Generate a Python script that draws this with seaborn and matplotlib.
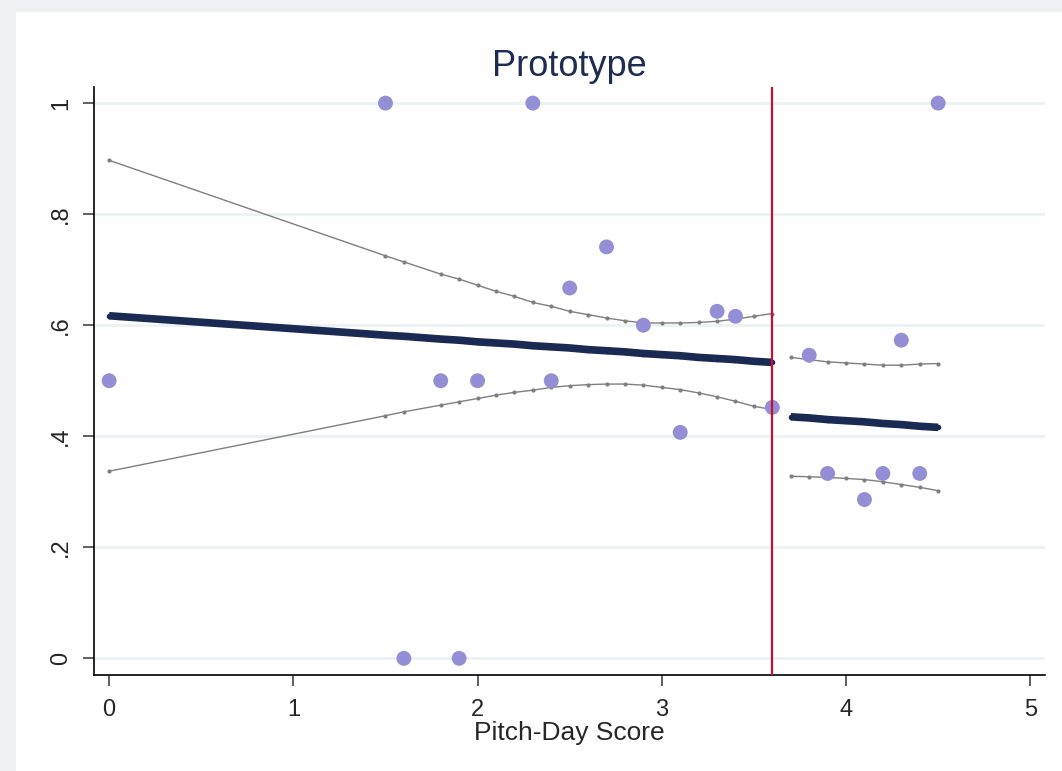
import matplotlib
matplotlib.use("Agg")
import matplotlib.pyplot as plt
import seaborn as sns
import pandas as pd
from matplotlib.patches import Rectangle

sns.set_style("white")
plt.rcParams['font.family'] = ['Liberation Sans', 'DejaVu Sans']

# ---- data ----
pts_x = [0, 1.5, 2.3, 4.5, 2.5, 2.7, 2.9, 3.3, 3.4, 1.8, 2.0, 2.4, 3.1, 3.6,
         3.8, 4.3, 3.9, 4.2, 4.4, 4.1, 1.6, 1.9]
pts_y = [0.5, 1, 1, 1, 0.667, 0.741, 0.6, 0.625, 0.616, 0.5, 0.5, 0.5, 0.407, 0.452,
         0.546, 0.573, 0.333, 0.333, 0.333, 0.286, 0, 0]

left_x = [0, 1.5, 1.6, 1.8, 1.9, 2.0, 2.1, 2.2, 2.3, 2.4, 2.5, 2.6, 2.7, 2.8, 2.9,
          3.0, 3.1, 3.2, 3.3, 3.4, 3.5, 3.6]
left_fit = [0.617, 0.582, 0.580, 0.575, 0.573, 0.570, 0.568, 0.566, 0.563, 0.561, 0.559,
            0.556, 0.554, 0.552, 0.549, 0.547, 0.545, 0.542, 0.540, 0.538, 0.535, 0.533]
left_hi = [0.897, 0.725, 0.714, 0.692, 0.683, 0.672, 0.661, 0.652, 0.641, 0.634, 0.625,
           0.619, 0.613, 0.608, 0.604, 0.604, 0.604, 0.605, 0.607, 0.611, 0.616, 0.621]
left_lo = [0.337, 0.437, 0.444, 0.456, 0.462, 0.468, 0.474, 0.479, 0.483, 0.488, 0.491,
           0.493, 0.494, 0.494, 0.492, 0.488, 0.484, 0.478, 0.471, 0.463, 0.454, 0.448]

right_x = [3.7, 3.8, 3.9, 4.0, 4.1, 4.2, 4.3, 4.4, 4.5]
right_fit = [0.435, 0.433, 0.430, 0.428, 0.426, 0.423, 0.421, 0.418, 0.416]
right_hi = [0.542, 0.538, 0.534, 0.532, 0.530, 0.528, 0.528, 0.530, 0.531]
right_lo = [0.328, 0.327, 0.326, 0.324, 0.322, 0.318, 0.313, 0.308, 0.302]

cutoff = 3.6
title = "Prototype"
xlabel = "Pitch-Day Score"
xticks = [0, 1, 2, 3, 4, 5]
yticks = [0, 0.2, 0.4, 0.6, 0.8, 1.0]
ytick_labels = ["0", ".2", ".4", ".6", ".8", "1"]

W, H = 1062, 771
fig = plt.figure(figsize=(W / 100, H / 100), dpi=100)
fig.patch.set_facecolor('#eff0f3')
fig.patches.append(Rectangle((16 / W, 0), 1 - 16 / W, 1 - 12 / H, transform=fig.transFigure,
                             facecolor='white', edgecolor='none', zorder=-10))

ax = fig.add_axes([94 / W, (H - 675) / H, (1045 - 94) / W, (675 - 87) / H])
ax.set_facecolor('white')

navy = '#1a2a52'
gray = '#7f7f7f'
purple = '#938ed6'

for xs, ys in [(left_x, left_hi), (left_x, left_lo), (right_x, right_hi), (right_x, right_lo)]:
    sns.lineplot(x=xs, y=ys, ax=ax, color=gray, linewidth=1.0, marker='o', markersize=3,
                 markeredgewidth=0, sort=False, estimator=None, zorder=3)
for xs, ys in [(left_x, left_fit), (right_x, right_fit)]:
    sns.lineplot(x=xs, y=ys, ax=ax, color=navy, linewidth=5.5, marker='o', markersize=4,
                 markeredgewidth=0, sort=False, estimator=None, zorder=4,
                 solid_capstyle='butt')

sns.scatterplot(x=pts_x, y=pts_y, ax=ax, color=purple, s=115, edgecolor='none', zorder=5)

ax.axvline(cutoff, color='#c8102e', linewidth=1.6, zorder=6)

ax.set_xlim(-0.082, 5.08)
ax.set_ylim(-0.030, 1.029)
ax.set_yticks(yticks)
ax.set_yticklabels(ytick_labels, rotation=90, va='center', fontsize=17)
ax.set_xticks(xticks)
ax.set_xticklabels([str(t) for t in xticks], fontsize=17)
ax.grid(axis='y', color='#eaf2f3', linewidth=2)
ax.grid(axis='x', visible=False)
ax.set_axisbelow(True)

for s in ['top', 'right']:
    ax.spines[s].set_visible(False)
for s in ['left', 'bottom']:
    ax.spines[s].set_color('black')
    ax.spines[s].set_linewidth(1.2)

ax.tick_params(axis='both', direction='out', length=8, width=1.2, color='#444444',
               left=True, bottom=True)
ax.tick_params(axis='y', pad=8)
ax.tick_params(axis='x', pad=9)

ax.set_xlabel(xlabel, fontsize=19, labelpad=0)
ax.set_title(title, fontsize=26, color='#1e2b52', pad=8)

fig.savefig('out.png', dpi=100, facecolor=fig.get_facecolor())
